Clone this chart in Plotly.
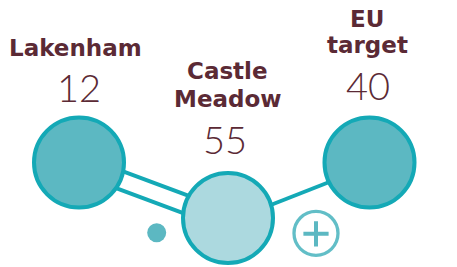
import plotly.graph_objects as go
import numpy as np

# ---- data ----
sites = ["Lakenham", "Castle Meadow", "EU target"]
values = [12, 55, 40]

# ---- layout (pixel positions in a 457x267 canvas) ----
node_x = [79, 228, 369.5]
node_y = [162.5, 218, 162.5]
node_fill = ["#5cb8c2", "#acd9df", "#5cb8c2"]
name_x = [75, 227.5, 367]
name_baseline = [[56.5], [79.3, 106.7], [26.7, 53.3]]
value_x = [78.5, 225, 368]
value_baseline = [101.7, 154, 100]

bonds = [(0, 1, [-7, 11]), (1, 2, [3.5])]

TEXT = "#5b2a35"
STROKE = "#14a9b6"
W, H = 457, 267

fig = go.Figure()

# bonds
for a, b, offs in bonds:
    x0, y0, x1, y1 = node_x[a], node_y[a], node_x[b], node_y[b]
    d = np.array([x1 - x0, y1 - y0])
    u = d / np.linalg.norm(d)
    n = np.array([-u[1], u[0]])
    for o in offs:
        fig.add_trace(go.Scatter(
            x=[x0 + n[0] * o, x1 + n[0] * o], y=[y0 + n[1] * o, y1 + n[1] * o],
            mode="lines", line=dict(color=STROKE, width=4), hoverinfo="skip"))

# nodes
fig.add_trace(go.Scatter(
    x=node_x, y=node_y, mode="markers", text=sites,
    customdata=values,
    marker=dict(size=90, color=node_fill, line=dict(color=STROKE, width=4)),
    hovertemplate="%{text}: %{customdata}<extra></extra>"))

# small dot and plus icon
fig.add_trace(go.Scatter(x=[156.7], y=[232.7], mode="markers",
                         marker=dict(size=19, color="#5cb8c2"), hoverinfo="skip"))
fig.add_trace(go.Scatter(x=[316], y=[233.3], mode="markers",
                         marker=dict(size=44, color="white",
                                     line=dict(color="#62bec7", width=3.3)),
                         hoverinfo="skip"))
fig.add_trace(go.Scatter(x=[316], y=[233.8], mode="markers",
                         marker=dict(size=18, symbol="cross-thin",
                                     line=dict(color="#5cb8c2", width=4)),
                         hoverinfo="skip"))

# labels
NAME_SIZE = 23
NUM_SIZE = 38
for i, s in enumerate(sites):
    lines = ["Castle", "Meadow"] if s == "Castle Meadow" else (["EU", "target"] if s == "EU target" else [s])
    for line, bl in zip(lines, name_baseline[i]):
        fig.add_annotation(x=name_x[i], y=bl - 0.35 * NAME_SIZE, text=line,
                           showarrow=False, xanchor="center", yanchor="middle",
                           font=dict(family="DejaVu Sans", size=NAME_SIZE,
                                     color=TEXT, weight="bold"))
    fig.add_annotation(x=value_x[i], y=value_baseline[i] - 0.387 * NUM_SIZE,
                       text=str(values[i]), showarrow=False,
                       xanchor="center", yanchor="middle",
                       font=dict(family="Lato", size=NUM_SIZE, color=TEXT,
                                 weight=300))

fig.update_layout(
    width=W, height=H, autosize=False,
    margin=dict(l=0, r=0, t=0, b=0),
    paper_bgcolor="white", plot_bgcolor="white",
    showlegend=False,
    xaxis=dict(range=[0, W], visible=False, fixedrange=True),
    yaxis=dict(range=[H, 0], visible=False, fixedrange=True),
)

fig.write_html("out.html", config={"displayModeBar": False},
               post_script="document.body.style.margin='0';document.body.style.overflow='hidden';")
